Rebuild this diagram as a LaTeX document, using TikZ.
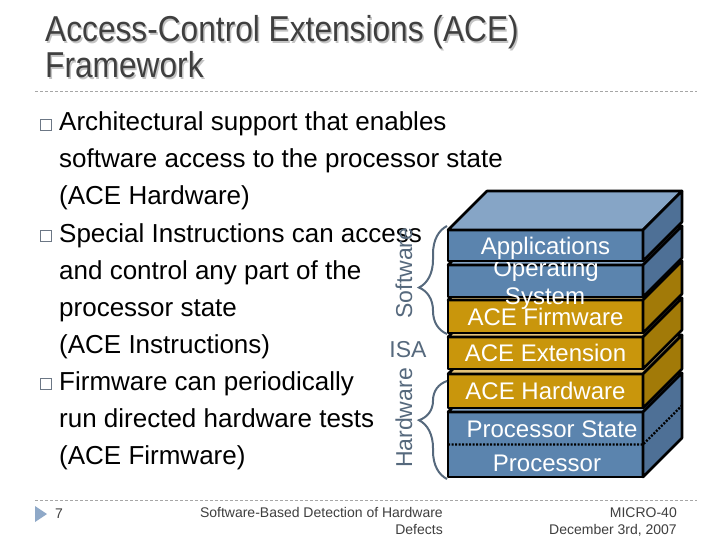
\documentclass[tikz,border=0pt]{standalone}
\usepackage{fontspec}
\setmainfont{Liberation Sans}
\newfontfamily\titlefont[FakeStretch=0.88]{Liberation Sans}
\usetikzlibrary{decorations.pathreplacing, calc}

\definecolor{aceblue}{HTML}{5B84AE}
\definecolor{acebluetop}{HTML}{86A5C6}
\definecolor{acebluesd}{HTML}{4E7096}
\definecolor{acegold}{HTML}{C9960C}
\definecolor{acegoldtop}{HTML}{E3C27A}
\definecolor{acegoldsd}{HTML}{A27A08}
\definecolor{bracegray}{HTML}{56697D}
\definecolor{titlegray}{HTML}{3F3F3F}
\definecolor{shadowgray}{HTML}{C4C4C4}
\definecolor{bulletgray}{HTML}{6C7785}
\definecolor{rulegray}{HTML}{A6A6A6}
\definecolor{footblue}{HTML}{8FA9C8}

% one slab of the stack: name, top, height, colour, text
\newcommand{\acelayer}[5]{%
  \node[layer, fill=#4, minimum height=#3pt, anchor=north west] (#1) at (448,#2) {#5};
  \draw[slab, fill=#4top] (#1.north west) -- ++(39,-39) -- ++(195,0) -- (#1.north east) -- cycle;
  \draw[slab, fill=#4sd]  (#1.north east) -- ++(39,-39) -- ++(0,#3) -- (#1.south east) -- cycle;
}

\begin{document}
\begin{tikzpicture}[
  x=1pt, y=-1pt,
  slab/.style      = {draw=black, line width=2.6pt, line join=round},
  layer/.style     = {slab, rectangle, inner sep=0pt, outer sep=0pt, minimum width=195pt,
                      text=white, font=\fontsize{24}{28}\selectfont, text height=17.2pt, text depth=0pt},
  layertext/.style = {text=white, font=\fontsize{24}{28}\selectfont, inner sep=0pt, anchor=base},
  bodytext/.style  = {font=\fontsize{26}{31}\selectfont, inner sep=0pt, anchor=base west},
  bullet/.style    = {draw=bulletgray, line width=1.2pt, rectangle, minimum size=11.5pt, inner sep=0pt},
  sidelabel/.style = {text=bracegray, font=\fontsize{23}{27}\selectfont, inner sep=0pt},
  bracket/.style   = {draw=bracegray, line width=2pt, decorate},
  titletext/.style = {font=\titlefont\fontsize{36}{40}\selectfont, inner sep=0pt, anchor=base west},
  foottext/.style  = {text=titlegray, font=\fontsize{14}{17}\selectfont, inner sep=0pt, anchor=base east},
  rule/.style      = {draw=rulegray, line width=0.8pt, dash pattern=on 3pt off 2pt},
]
  \path[use as bounding box, fill=white] (0,0) rectangle (720,540);

  % title
  \node[titletext, text=shadowgray] (t1s) at (46.5,43.5) {Access-Control Extensions (ACE)};
  \node[titletext, text=shadowgray] (t2s) at (46.5,79.5) {Framework};
  \node[titletext, text=titlegray]  (t1)  at (45,42)     {Access-Control Extensions (ACE)};
  \node[titletext, text=titlegray]  (t2)  at (45,78)     {Framework};
  \coordinate (rtl) at (35,91);
  \coordinate (rtr) at (697,91);
  \draw[rule] (rtl) -- (rtr);

  % bullet text
  \node[bullet]   (b1) at (46,125) {};
  \node[bodytext] (l1) at (59,131) {Architectural support that enables};
  \node[bodytext] (l2) at (59,168) {software access to the processor state};
  \node[bodytext] (l3) at (59,205) {(ACE Hardware)};
  \node[bullet]   (b2) at (46,236) {};
  \node[bodytext] (l4) at (59,242) {Special Instructions can access};
  \node[bodytext] (l5) at (59,279) {and control any part of the};
  \node[bodytext] (l6) at (59,316) {processor state};
  \node[bodytext] (l7) at (59,353) {(ACE Instructions)};
  \node[bullet]   (b3) at (46,384) {};
  \node[bodytext] (l8) at (59,390) {Firmware can periodically};
  \node[bodytext] (l9) at (59,427) {run directed hardware tests};
  \node[bodytext] (l10) at (59,464) {(ACE Firmware)};

  % the stack, bottom first
  \acelayer{proc}{412}{65}{aceblue}{}
  \draw[line width=2.2pt, dash pattern=on 2pt off 1.5pt] (proc.west) -- (proc.east) -- ++(39,-39);
  \node[layertext] (pstate) at (552,437) {Processor State};
  \node[layertext] (pcore)  at (547,471) {Processor};
  \acelayer{hw}{374}{34}{acegold}{ACE Hardware}
  \acelayer{ext}{337}{32}{acegold}{ACE Extension}
  \acelayer{fw}{300}{33}{acegold}{ACE Firmware}
  \acelayer{os}{265}{32}{aceblue}{}
  \node[layertext] (os1) at (546,276.6) {Operating};
  \node[layertext] (os2) at (545,304.6) {System};
  \acelayer{app}{230}{31}{aceblue}{Applications}

  % braces and labels
  \coordinate (swlo) at (447,334);
  \coordinate (swhi) at (447,226);
  \coordinate (hwlo) at (447,479);
  \coordinate (hwhi) at (447,381);
  \draw[bracket, decoration={brace, amplitude=28pt, aspect=0.43}] (swlo) -- (swhi);
  \draw[bracket, decoration={brace, amplitude=28pt, aspect=0.6}]  (hwlo) -- (hwhi);
  \node[sidelabel, rotate=90] (swlab) at (404,273) {Software};
  \node[sidelabel]            (isa)   at (408,350) {ISA};
  \node[sidelabel, rotate=90] (hwlab) at (404,418) {Hardware};

  % footer
  \coordinate (rbl) at (35,500);
  \coordinate (rbr) at (697,500);
  \draw[rule] (rbl) -- (rbr);
  \fill[footblue] (35,506) -- (47,514) -- (35,522) -- cycle;
  \node[foottext, anchor=base west] (pnum) at (55,518) {7};
  \node[foottext] (ft1) at (443,517) {Software-Based Detection of Hardware};
  \node[foottext] (ft2) at (443,534) {Defects};
  \node[foottext] (fr1) at (677,517) {MICRO-40};
  \node[foottext] (fr2) at (677,534) {December 3rd, 2007};
\end{tikzpicture}
\end{document}
